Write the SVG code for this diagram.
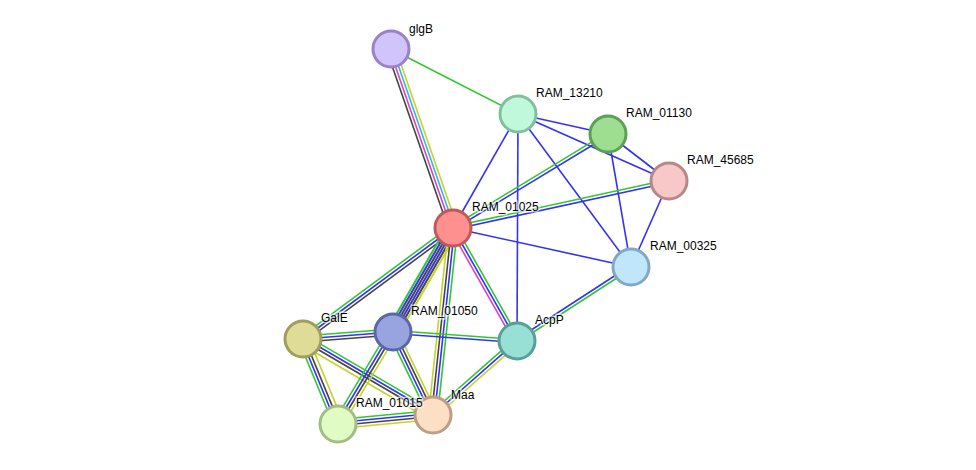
<svg xmlns="http://www.w3.org/2000/svg" width="976" height="470" viewBox="0 0 976 470">
<style>
.l{stroke-width:1.6;fill:none}
.g{stroke:#33c633}.b{stroke:#3434f0}.k{stroke:#454545}.y{stroke:#c4d42c}.m{stroke:#d642d6}.c{stroke:#34b8dc}
.n circle{stroke-width:3}
.t{font-family:"Liberation Sans",Arial,sans-serif;font-size:12px;fill:#000;stroke:#fff;stroke-width:3;stroke-opacity:0.6;paint-order:stroke}
</style>
<rect width="976" height="470" fill="#fff"/>
<g id="connectors">
  <line class="l g" x1="391" y1="49" x2="518" y2="114"/>
  <line class="l b" x1="518" y1="114" x2="453" y2="228"/>
  <line class="l b" x1="518" y1="114" x2="608" y2="134"/>
  <line class="l b" x1="518" y1="114" x2="669" y2="181"/>
  <line class="l b" x1="518" y1="114" x2="631" y2="267"/>
  <line class="l b" x1="518" y1="114" x2="517" y2="341"/>
  <line class="l b" x1="608" y1="134" x2="669" y2="181"/>
  <line class="l b" x1="608" y1="134" x2="631" y2="267"/>
  <line class="l b" x1="669" y1="181" x2="631" y2="267"/>
  <line class="l b" x1="453" y1="228" x2="631" y2="267"/>
  <g transform="translate(391,49) rotate(70.89)">
    <line class="l k" x1="0" y1="4.5" x2="189.4" y2="4.5"/>
    <line class="l m" x1="0" y1="1.5" x2="189.4" y2="1.5"/>
    <line class="l c" x1="0" y1="-1.5" x2="189.4" y2="-1.5"/>
    <line class="l y" x1="0" y1="-4.5" x2="189.4" y2="-4.5"/>
  </g>
  <g transform="translate(453,228) rotate(-31.24)">
    <line class="l g" x1="0" y1="-1.5" x2="181.3" y2="-1.5"/>
    <line class="l b" x1="0" y1="1.5" x2="181.3" y2="1.5"/>
  </g>
  <g transform="translate(453,228) rotate(-12.28)">
    <line class="l g" x1="0" y1="-1.5" x2="221" y2="-1.5"/>
    <line class="l b" x1="0" y1="1.5" x2="221" y2="1.5"/>
  </g>
  <g transform="translate(517,341) rotate(-33.0)">
    <line class="l b" x1="0" y1="-1.5" x2="135.9" y2="-1.5"/>
    <line class="l g" x1="0" y1="1.5" x2="135.9" y2="1.5"/>
  </g>
  <g transform="translate(453,228) rotate(60.47)">
    <line class="l m" x1="0" y1="3" x2="129.9" y2="3"/>
    <line class="l b" x1="0" y1="0" x2="129.9" y2="0"/>
    <line class="l g" x1="0" y1="-3" x2="129.9" y2="-3"/>
  </g>
  <g transform="translate(453,228) rotate(143.5)">
    <line class="l g" x1="0" y1="3" x2="186.6" y2="3"/>
    <line class="l b" x1="0" y1="0" x2="186.6" y2="0"/>
    <line class="l k" x1="0" y1="-3" x2="186.6" y2="-3"/>
  </g>
  <g transform="translate(453,228) rotate(120.0)">
    <line class="l g" style="stroke-width:2" x1="0" y1="6" x2="120" y2="6"/>
    <line class="l b" style="stroke-width:2" x1="0" y1="3.6" x2="120" y2="3.6"/>
    <line class="l k" style="stroke-width:2" x1="0" y1="1.2" x2="120" y2="1.2"/>
    <line class="l b" style="stroke-width:2" x1="0" y1="-1.2" x2="120" y2="-1.2"/>
    <line class="l k" style="stroke-width:2" x1="0" y1="-3.6" x2="120" y2="-3.6"/>
    <line class="l y" style="stroke-width:2" x1="0" y1="-6" x2="120" y2="-6"/>
  </g>
  <g transform="translate(453,228) rotate(96.1)">
    <line class="l y" x1="0" y1="4.5" x2="188" y2="4.5"/>
    <line class="l k" x1="0" y1="1.5" x2="188" y2="1.5"/>
    <line class="l b" x1="0" y1="-1.5" x2="188" y2="-1.5"/>
    <line class="l g" x1="0" y1="-4.5" x2="188" y2="-4.5"/>
  </g>
  <g transform="translate(303,339) rotate(-4.45)">
    <line class="l g" x1="0" y1="-3" x2="90.3" y2="-3"/>
    <line class="l b" x1="0" y1="0" x2="90.3" y2="0"/>
    <line class="l k" x1="0" y1="3" x2="90.3" y2="3"/>
  </g>
  <g transform="translate(303,339) rotate(30.3)">
    <line class="l g" x1="0" y1="-4.5" x2="150.6" y2="-4.5"/>
    <line class="l b" x1="0" y1="-1.5" x2="150.6" y2="-1.5"/>
    <line class="l k" x1="0" y1="1.5" x2="150.6" y2="1.5"/>
    <line class="l y" x1="0" y1="5.5" x2="150.6" y2="5.5"/>
  </g>
  <g transform="translate(303,339) rotate(67.6)">
    <line class="l g" x1="0" y1="4.5" x2="91.9" y2="4.5"/>
    <line class="l b" x1="0" y1="1.5" x2="91.9" y2="1.5"/>
    <line class="l k" x1="0" y1="-1.5" x2="91.9" y2="-1.5"/>
    <line class="l y" x1="0" y1="-5.5" x2="91.9" y2="-5.5"/>
  </g>
  <g transform="translate(393,332) rotate(120.9)">
    <line class="l g" x1="0" y1="4.5" x2="107.2" y2="4.5"/>
    <line class="l b" x1="0" y1="1.5" x2="107.2" y2="1.5"/>
    <line class="l k" x1="0" y1="-1.5" x2="107.2" y2="-1.5"/>
    <line class="l y" x1="0" y1="-4.5" x2="107.2" y2="-4.5"/>
  </g>
  <g transform="translate(393,332) rotate(64.3)">
    <line class="l g" x1="0" y1="4.5" x2="92.1" y2="4.5"/>
    <line class="l b" x1="0" y1="1.5" x2="92.1" y2="1.5"/>
    <line class="l k" x1="0" y1="-1.5" x2="92.1" y2="-1.5"/>
    <line class="l y" x1="0" y1="-4.5" x2="92.1" y2="-4.5"/>
  </g>
  <g transform="translate(393,332) rotate(4.15)">
    <line class="l g" x1="0" y1="-1.5" x2="124.3" y2="-1.5"/>
    <line class="l b" x1="0" y1="1.5" x2="124.3" y2="1.5"/>
  </g>
  <g transform="translate(338,424) rotate(-5.41)">
    <line class="l g" x1="0" y1="-4.5" x2="95.4" y2="-4.5"/>
    <line class="l b" x1="0" y1="-1.5" x2="95.4" y2="-1.5"/>
    <line class="l k" x1="0" y1="1.5" x2="95.4" y2="1.5"/>
    <line class="l y" x1="0" y1="4.5" x2="95.4" y2="4.5"/>
  </g>
  <g transform="translate(433,415) rotate(-41.4)">
    <line class="l g" x1="0" y1="-3" x2="111.9" y2="-3"/>
    <line class="l b" x1="0" y1="0" x2="111.9" y2="0"/>
    <line class="l y" x1="0" y1="3" x2="111.9" y2="3"/>
  </g>
</g>
<g id="glgB" class="n"><circle cx="391" cy="49" r="18" fill="#d1c3fb" stroke="#9a82c8"/><text class="t" x="409" y="33">glgB</text></g>
<g id="RAM_13210" class="n"><circle cx="518" cy="114" r="18" fill="#c0f8dc" stroke="#82bf9c"/><text class="t" x="536" y="97">RAM_13210</text></g>
<g id="RAM_01130" class="n"><circle cx="608" cy="134" r="18" fill="#9ede90" stroke="#5e9e55"/><text class="t" x="626" y="117">RAM_01130</text></g>
<g id="RAM_45685" class="n"><circle cx="669" cy="181" r="18" fill="#f7c8c8" stroke="#b88888"/><text class="t" x="687" y="164">RAM_45685</text></g>
<g id="RAM_00325" class="n"><circle cx="631" cy="267" r="18" fill="#c0e6fb" stroke="#82a8c4"/><text class="t" x="650" y="250">RAM_00325</text></g>
<g id="GalE" class="n"><circle cx="303" cy="339" r="18" fill="#dfdc98" stroke="#a09e5e"/><text class="t" x="321" y="322">GalE</text></g>
<g id="RAM_01050" class="n"><circle cx="393" cy="332" r="18" fill="#98a4e0" stroke="#5a68a4"/><text class="t" x="411" y="315">RAM_01050</text></g>
<g id="AcpP" class="n"><circle cx="517" cy="341" r="18" fill="#98dfd6" stroke="#5a9e98"/><text class="t" x="535" y="324">AcpP</text></g>
<g id="Maa" class="n"><circle cx="433" cy="415" r="18" fill="#fcdfc4" stroke="#bc9e82"/><text class="t" x="451" y="399">Maa</text></g>
<g id="RAM_01015" class="n"><circle cx="338" cy="424" r="18" fill="#e0fcc4" stroke="#a2be86"/><text class="t" x="356" y="407">RAM_01015</text></g>
<g id="RAM_01025" class="n"><circle cx="453" cy="228" r="18" fill="#fe9090" stroke="#c05a5a"/><text class="t" x="472" y="211">RAM_01025</text></g>
</svg>
